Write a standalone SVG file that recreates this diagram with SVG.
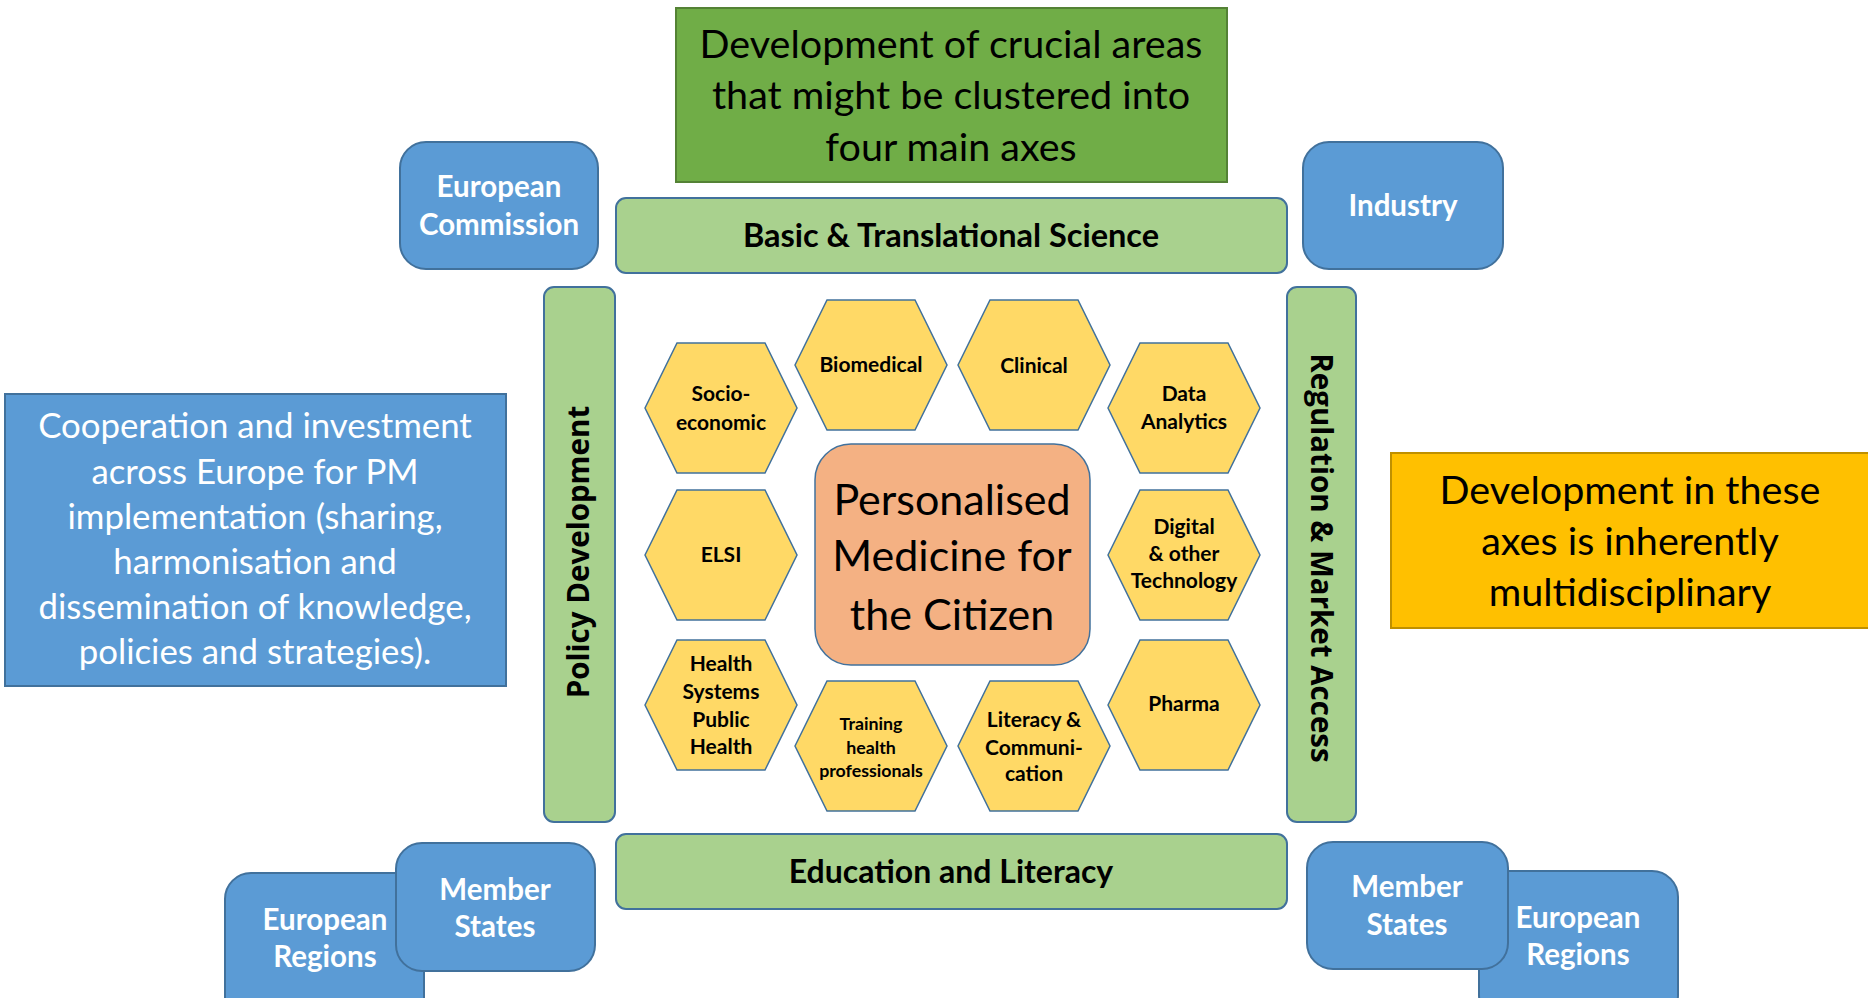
<svg xmlns="http://www.w3.org/2000/svg" width="1868" height="998" viewBox="0 0 1868 998">
<defs>
<style>
.blue{fill:#5b9bd5;stroke:#41719c;stroke-width:2}
.lg{fill:#a9d18e;stroke:#41719c;stroke-width:2}
.hex{fill:#ffd966;stroke:#41719c;stroke-width:1.5}
.wt{fill:#fff;font-family:Lato,"Liberation Sans",sans-serif;font-weight:bold;text-anchor:middle;font-size:29.5px}
.bt{fill:#000;font-family:Lato,"Liberation Sans",sans-serif;text-anchor:middle}
.ht{fill:#000;font-family:Lato,"Liberation Sans",sans-serif;font-weight:bold;font-size:21px;text-anchor:middle}
.vt{fill:#000;font-family:"Open Sans","DejaVu Sans",sans-serif;font-weight:bold;font-size:29.5px;text-anchor:middle}
</style>
<polygon id="hx" points="-76,0 -44,-65 44,-65 76,0 44,65 -44,65"/>
</defs>
<rect width="1868" height="998" fill="#fff"/>

<g id="top-note">
<rect x="676" y="8" width="551" height="174" fill="#70ad47" stroke="#548235" stroke-width="2"/>
<text class="bt" font-size="39.5"><tspan x="951" y="58">Development of crucial areas</tspan><tspan x="951" y="109">that might be clustered into</tspan><tspan x="951" y="161">four main axes</tspan></text>
</g>

<g id="european-commission">
<rect class="blue" x="400" y="142" width="198" height="127" rx="26"/>
<text class="wt"><tspan x="499" y="197">European</tspan><tspan x="499" y="235">Commission</tspan></text>
</g>

<g id="industry">
<rect class="blue" x="1303" y="142" width="200" height="127" rx="26"/>
<text class="wt" x="1403" y="216">Industry</text>
</g>

<g id="basic-science">
<rect class="lg" x="616" y="198" width="671" height="75" rx="10"/>
<text class="bt" font-size="32.5" font-weight="bold" x="951" y="247">Basic &amp; Translational Science</text>
</g>

<g id="policy-development">
<rect class="lg" x="544" y="287" width="71" height="535" rx="10"/>
<text class="vt" transform="translate(589,552) rotate(-90)" x="0" y="0">Policy Development</text>
</g>

<g id="regulation-market-access">
<rect class="lg" x="1287" y="287" width="69" height="535" rx="10"/>
<text class="vt" transform="translate(1311,558) rotate(90)" x="0" y="0">Regulation &amp; Market Access</text>
</g>

<g id="education-literacy">
<rect class="lg" x="616" y="834" width="671" height="75" rx="10"/>
<text class="bt" font-size="32" font-weight="bold" x="951" y="883">Education and Literacy</text>
</g>

<g id="cooperation-note">
<rect class="blue" x="5" y="394" width="501" height="292"/>
<text class="bt" font-size="34.8" style="fill:#fff"><tspan x="255" y="438">Cooperation and investment</tspan><tspan x="255" y="484">across Europe for PM</tspan><tspan x="255" y="529">implementation (sharing,</tspan><tspan x="255" y="574">harmonisation and</tspan><tspan x="255" y="619">dissemination of knowledge,</tspan><tspan x="255" y="664">policies and strategies).</tspan></text>
</g>

<g id="multidisciplinary-note">
<rect x="1391" y="453" width="480" height="175" fill="#ffc000" stroke="#bf9000" stroke-width="2"/>
<text class="bt" font-size="39.5"><tspan x="1630" y="504">Development in these</tspan><tspan x="1630" y="555">axes is inherently</tspan><tspan x="1630" y="606">multidisciplinary</tspan></text>
</g>

<g id="personalised-medicine">
<rect x="815" y="444" width="275" height="221" rx="36" fill="#f4b183" stroke="#41719c" stroke-width="1.5"/>
<text class="bt" font-size="43"><tspan x="952" y="515">Personalised</tspan><tspan x="952" y="571">Medicine for</tspan><tspan x="952" y="630">the Citizen</tspan></text>
</g>

<g id="hex-socio-economic">
<use href="#hx" class="hex" x="721" y="408"/>
<text class="ht"><tspan x="721" y="401">Socio-</tspan><tspan x="721" y="430">economic</tspan></text>
</g>
<g id="hex-biomedical">
<use href="#hx" class="hex" x="871" y="365"/>
<text class="ht" x="871" y="372">Biomedical</text>
</g>
<g id="hex-clinical">
<use href="#hx" class="hex" x="1034" y="365"/>
<text class="ht" x="1034" y="373">Clinical</text>
</g>
<g id="hex-data-analytics">
<use href="#hx" class="hex" x="1184" y="408"/>
<text class="ht"><tspan x="1184" y="401">Data</tspan><tspan x="1184" y="429">Analytics</tspan></text>
</g>
<g id="hex-elsi">
<use href="#hx" class="hex" x="721" y="555"/>
<text class="ht" x="721" y="562">ELSI</text>
</g>
<g id="hex-digital">
<use href="#hx" class="hex" x="1184" y="555"/>
<text class="ht"><tspan x="1184" y="534">Digital</tspan><tspan x="1184" y="561">&amp; other</tspan><tspan x="1184" y="588">Technology</tspan></text>
</g>
<g id="hex-health-systems">
<use href="#hx" class="hex" x="721" y="705"/>
<text class="ht"><tspan x="721" y="671">Health</tspan><tspan x="721" y="699">Systems</tspan><tspan x="721" y="727">Public</tspan><tspan x="721" y="754">Health</tspan></text>
</g>
<g id="hex-training">
<use href="#hx" class="hex" x="871" y="746"/>
<text class="ht" style="font-size:17.8px"><tspan x="871" y="730">Training</tspan><tspan x="871" y="754">health</tspan><tspan x="871" y="777">professionals</tspan></text>
</g>
<g id="hex-literacy">
<use href="#hx" class="hex" x="1034" y="746"/>
<text class="ht"><tspan x="1034" y="727">Literacy &amp;</tspan><tspan x="1034" y="755">Communi-</tspan><tspan x="1034" y="781">cation</tspan></text>
</g>
<g id="hex-pharma">
<use href="#hx" class="hex" x="1184" y="705"/>
<text class="ht" x="1184" y="711">Pharma</text>
</g>

<g id="european-regions-left">
<rect class="blue" x="225" y="873" width="199" height="150" rx="26"/>
<text class="wt"><tspan x="325" y="930">European</tspan><tspan x="325" y="967">Regions</tspan></text>
</g>
<g id="member-states-left">
<rect class="blue" x="396" y="843" width="199" height="128" rx="26"/>
<text class="wt"><tspan x="495" y="900">Member</tspan><tspan x="495" y="937">States</tspan></text>
</g>
<g id="european-regions-right">
<rect class="blue" x="1479" y="871" width="199" height="150" rx="26"/>
<text class="wt"><tspan x="1578" y="928">European</tspan><tspan x="1578" y="965">Regions</tspan></text>
</g>
<g id="member-states-right">
<rect class="blue" x="1307" y="842" width="201" height="127" rx="26"/>
<text class="wt"><tspan x="1407" y="897">Member</tspan><tspan x="1407" y="935">States</tspan></text>
</g>
<g id="connectors"/>
</svg>
